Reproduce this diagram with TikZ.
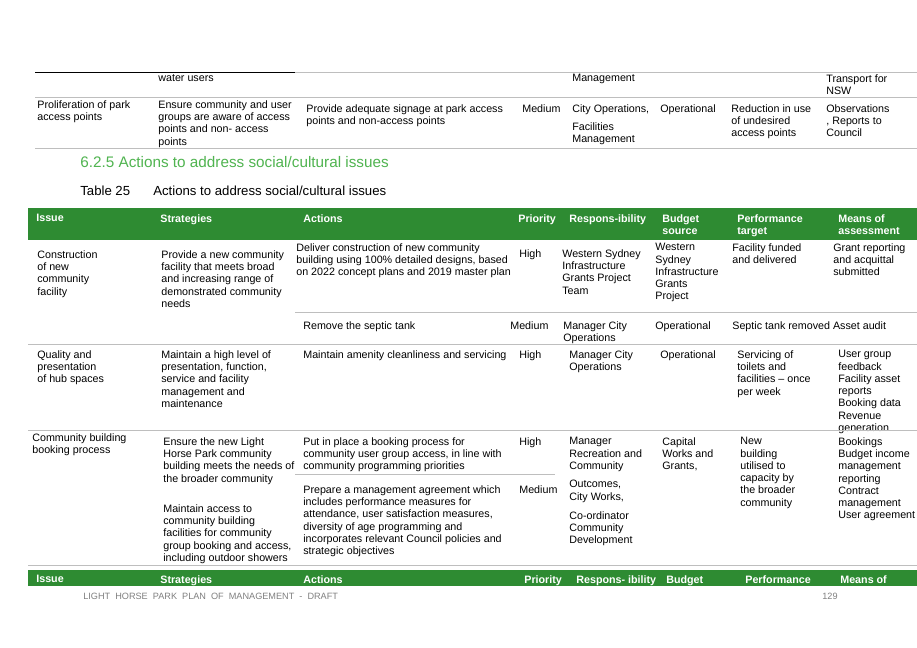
\documentclass[tikz,border=0pt]{standalone}
\usepackage{fontspec}
\setmainfont{Liberation Sans}
\definecolor{hdrgreen}{RGB}{46,139,50}
\definecolor{headgreen}{RGB}{80,180,80}
\definecolor{rulegrey}{RGB}{190,190,190}
\tikzset{
  cell/.style={anchor=north west,inner sep=0pt,align=left,font=\fontsize{6.1}{7.0}\selectfont},
  hdr/.style={cell,text=white,font=\fontsize{6.1}{7.0}\selectfont\bfseries},
  rowline/.style={draw=rulegrey,line width=0.4pt}
}
\begin{document}
\begin{tikzpicture}[x=0.02cm,y=-0.02cm]
\useasboundingbox[fill=white] (0,0) rectangle (917,648);
% top rows
\draw[line width=0.5pt] (35,72) -- (295,72);
\draw[rowline] (295,72) -- (917,72);
\draw[rowline] (35,97) -- (917,97);
\draw[rowline] (35,148) -- (917,148);
\node[cell] (wu) at (158,74) {water users};
\node[cell] (mg) at (572,74) {Management};
\node[cell] (tn) at (826,74) {Transport for\\NSW};
\node[cell] (pr) at (37,100) {Proliferation of park\\access points};
\node[cell] (en) at (158,100) {Ensure community and user\\groups are aware of access\\points and non- access\\points};
\node[cell] (ps) at (306,104) {Provide adequate signage at park access\\points and non-access points};
\node[cell] (md) at (522,104) {Medium};
\node[cell] (co) at (572,104) {City Operations,};
\node[cell] (fm) at (572,122) {Facilities\\Management};
\node[cell] (op) at (660,104) {Operational};
\node[cell] (ru) at (731,104) {Reduction in use\\of undesired\\access points};
\node[cell] (ob) at (826,104) {Observations\\, Reports to\\Council};
% heading
\node[anchor=west,inner sep=0pt,text=headgreen,font=\fontsize{8.7}{10}\selectfont] (h) at (80,162) {6.2.5 Actions to address social/cultural issues};
\node[anchor=west,inner sep=0pt,font=\fontsize{7.5}{9}\selectfont] (t) at (80,191) {Table 25};
\node[anchor=west,inner sep=0pt,font=\fontsize{7.5}{9}\selectfont] (tt) at (153,191) {Actions to address social/cultural issues};
% header bar
\fill[hdrgreen] (28,208) rectangle (917,240);
\node[hdr] (h1) at (36,214) {Issue};
\node[hdr] (h2) at (160,214) {Strategies};
\node[hdr] (h3) at (303,214) {Actions};
\node[hdr] (h4) at (518,214) {Priority};
\node[hdr] (h5) at (569,214) {Respons-ibility};
\node[hdr] (h6) at (662,214) {Budget\\source};
\node[hdr] (h7) at (737,214) {Performance\\target};
\node[hdr] (h8) at (838,214) {Means of\\assessment};
% row construction
\node[cell] (a1) at (37,250) {Construction\\of new\\community\\facility};
\node[cell] (a2) at (161,250) {Provide a new community\\facility that meets broad\\and increasing range of\\demonstrated community\\needs};
\node[cell] (a3) at (296,243) {Deliver construction of new community\\building using 100\% detailed designs, based\\on 2022 concept plans and 2019 master plan};
\node[cell] (a4) at (519,249) {High};
\node[cell] (a5) at (562,249) {Western Sydney\\Infrastructure\\Grants Project\\Team};
\node[cell] (a6) at (655,243) {Western\\Sydney\\Infrastructure\\Grants\\Project};
\node[cell] (a7) at (732,243) {Facility funded\\and delivered};
\node[cell] (a8) at (833,243) {Grant reporting\\and acquittal\\submitted};
\draw[rowline] (295,312) -- (917,312);
\node[cell] (s3) at (303,321) {Remove the septic tank};
\node[cell] (s4) at (510,321) {Medium};
\node[cell] (s5) at (563,321) {Manager City\\Operations};
\node[cell] (s6) at (655,321) {Operational};
\node[cell] (s7) at (732,321) {Septic tank removed Asset audit};
\draw[rowline] (28,344) -- (917,344);
% row quality
\node[cell] (b1) at (37,350) {Quality and\\presentation\\of hub spaces};
\node[cell] (b2) at (161,350) {Maintain a high level of\\presentation, function,\\service and facility\\management and\\maintenance};
\node[cell] (b3) at (303,350) {Maintain amenity cleanliness and servicing};
\node[cell] (b4) at (519,350) {High};
\node[cell] (b5) at (569,350) {Manager City\\Operations};
\node[cell] (b6) at (660,350) {Operational};
\node[cell] (b7) at (737,350) {Servicing of\\toilets and\\facilities -- once\\per week};
\node[cell] (b8) at (838,350) {User group\\feedback\\Facility asset\\reports\\Booking data\\Revenue\\generation};
\draw[rowline] (28,430) -- (917,430);
% row booking
\node[cell] (c1) at (32,433) {Community building\\booking process};
\node[cell] (c2) at (163,437) {Ensure the new Light\\Horse Park community\\building meets the needs of\\the broader community};
\node[cell] (c2b) at (163,504) {Maintain access to\\community building\\facilities for community\\group booking and access,\\including outdoor showers};
\node[cell] (c3) at (303,437) {Put in place a booking process for\\community user group access, in line with\\community programming priorities};
\node[cell] (c4) at (519,437) {High};
\node[cell] (c5) at (569,437) {Manager\\Recreation and\\Community};
\node[cell] (c6) at (662,437) {Capital\\Works and\\Grants,};
\node[cell] (c7) at (740,437) {New\\building\\utilised to\\capacity by\\the broader\\community};
\node[cell] (c8) at (838,437) {Bookings\\Budget income\\management\\reporting\\Contract\\management\\User agreement};
\draw[rowline] (295,474) -- (555,474);
\node[cell] (d3) at (303,485) {Prepare a management agreement which\\includes performance measures for\\attendance, user satisfaction measures,\\diversity of age programming and\\incorporates relevant Council policies and\\strategic objectives};
\node[cell] (d4) at (519,485) {Medium};
\node[cell] (d5) at (569,480) {Outcomes,\\City Works,};
\node[cell] (d5b) at (569,511) {Co-ordinator\\Community\\Development};
\draw[rowline] (28,565) -- (917,565);
% repeated header
\fill[hdrgreen] (28,570) rectangle (917,586);
\node[hdr] (r1) at (36,575) {Issue};
\node[hdr] (r2) at (160,575) {Strategies};
\node[hdr] (r3) at (303,575) {Actions};
\node[hdr] (r4) at (524,575) {Priority};
\node[hdr] (r5) at (576,575) {Respons- ibility};
\node[hdr] (r6) at (666,575) {Budget};
\node[hdr] (r7) at (745,575) {Performance};
\node[hdr] (r8) at (840,575) {Means of};
% footer
\node[anchor=west,inner sep=0pt,text=gray,font=\fontsize{5.2}{6}\selectfont] (f1) at (83,596) {LIGHT\ \ HORSE\ \ PARK\ \ PLAN\ \ OF\ \ MANAGEMENT\ \ -\ \ DRAFT};
\node[anchor=west,inner sep=0pt,text=gray,font=\fontsize{5.2}{6}\selectfont] (f2) at (822,596) {129};
\end{tikzpicture}
\end{document}
